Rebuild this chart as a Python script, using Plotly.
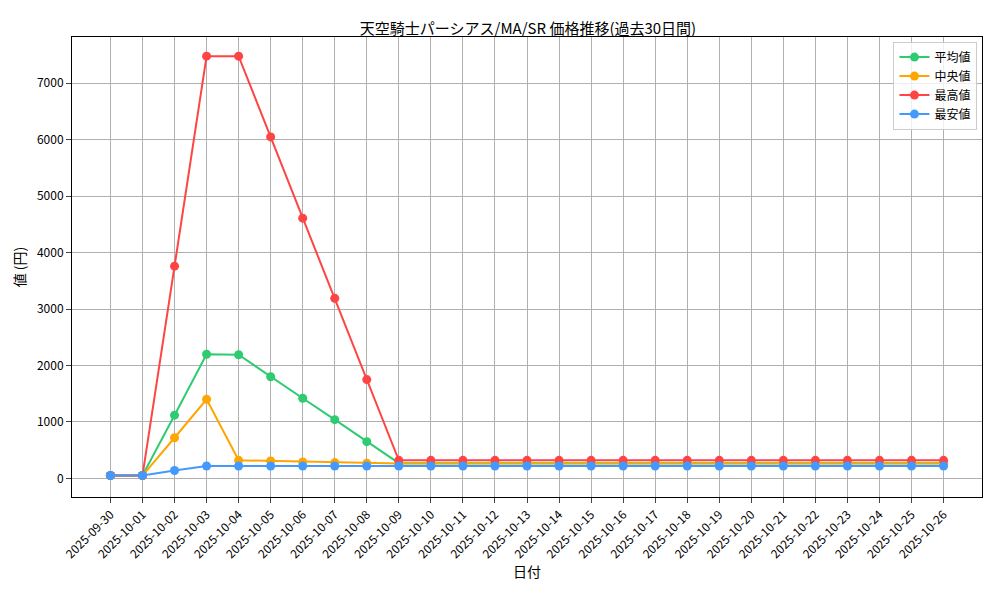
import plotly.graph_objects as go
import pandas as pd

dates = pd.date_range("2025-09-30", "2025-10-26").strftime("%Y-%m-%d").tolist()
tail = 17
avg_vals = [50, 50, 1120, 2200, 2190, 1800, 1420, 1040, 650, 270] + [270] * tail
med_vals = [50, 50, 720, 1400, 320, 310, 290, 280, 270, 265] + [265] * tail
max_vals = [50, 50, 3760, 7480, 7480, 6050, 4610, 3190, 1750, 320] + [320] * tail
min_vals = [50, 50, 140, 220, 220, 220, 220, 220, 220, 220] + [220] * tail

series = [
    ("平均値", avg_vals, "#2ecc71"),
    ("中央値", med_vals, "#ffa500"),
    ("最高値", max_vals, "#ff4444"),
    ("最安値", min_vals, "#4499ff"),
]

fig = go.Figure()
for name, vals, color in series:
    fig.add_trace(go.Scatter(x=dates, y=vals, name=name, mode="lines+markers",
                             line=dict(color=color, width=2),
                             marker=dict(color=color, size=9)))

axis = dict(showline=True, linecolor="black", mirror=True, showgrid=True,
            gridcolor="#b0b0b0", ticks="outside", zeroline=False)
fig.update_layout(
    width=1000, height=600,
    font=dict(family="Noto Sans CJK JP", size=12, color="black"),
    title=dict(text="天空騎士パーシアス/MA/SR 価格推移(過去30日間)", x=0.52, y=0.975, font=dict(size=15)),
    plot_bgcolor="white", paper_bgcolor="white",
    margin=dict(l=64, r=26, t=29, b=111, autoexpand=False),
    xaxis=dict(axis, type="category", tickangle=-45, title=dict(text="日付", standoff=5),
               range=[-1.2, 27.2]),
    yaxis=dict(axis, range=[-330, 7820], tickvals=list(range(0, 8000, 1000)),
               title=dict(text="値 (円)", standoff=8)),
    legend=dict(x=0.995, y=0.99, xanchor="right", yanchor="top",
                bordercolor="#cccccc", borderwidth=1, bgcolor="rgba(255,255,255,0.8)"),
)
fig.write_html("out.html")
